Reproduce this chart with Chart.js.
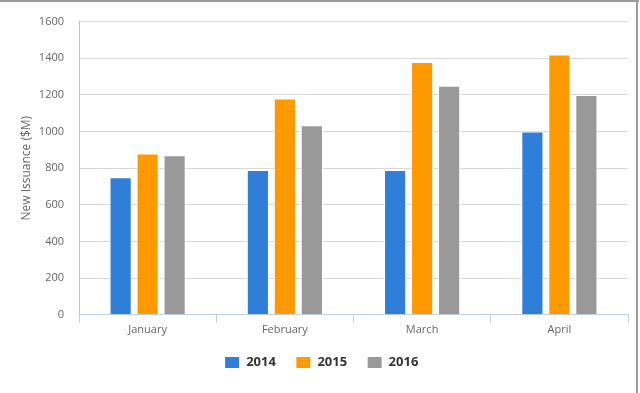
<!DOCTYPE html>
<html>
<head>
<meta charset="utf-8">
<script src="https://cdn.jsdelivr.net/npm/chart.js@4"></script>
<style>
  html, body { margin: 0; padding: 0; background: #fff; }
  #wrap { position: relative; width: 640px; height: 393px; }
  #wrap .edge-top { position: absolute; left: 0; top: 0; width: 639px; height: 2px; background: #9a9a9a; }
  #wrap .edge-right { position: absolute; left: 636px; top: 0; width: 2px; height: 393px; background: #9a9a9a; }
</style>
</head>
<body>
<div id="wrap">
  <canvas id="issuance" width="640" height="393"></canvas>
  <div class="edge-top"></div>
  <div class="edge-right"></div>
</div>
<script>
const months = ['January', 'February', 'March', 'April'];
const years = ['2014', '2015', '2016'];
const issuance2014 = [750, 790, 790, 1000];
const issuance2015 = [880, 1180, 1380, 1420];
const issuance2016 = [870, 1035, 1250, 1200];
const yTicks = [0, 200, 400, 600, 800, 1000, 1200, 1400, 1600];

const colors = ['#2f7ed8', '#ff9900', '#999999'];
const font = "'Open Sans', 'DejaVu Sans', sans-serif";

function makeSet(label, data, color) {
    return {
        label: label,
        data: data,
        backgroundColor: color,
        borderColor: '#ffffff',
        borderWidth: 1,
        borderSkipped: 'bottom',
        barPercentage: 0.82,
        categoryPercentage: 0.59
    };
}

const ctx = document.getElementById('issuance').getContext('2d');
const chart = new Chart(ctx, {
    type: 'bar',
    data: {
        labels: months,
        datasets: [
            makeSet(years[0], issuance2014, colors[0]),
            makeSet(years[1], issuance2015, colors[1]),
            makeSet(years[2], issuance2016, colors[2])
        ]
    },
    options: {
        responsive: false,
        maintainAspectRatio: false,
        animation: false,
        layout: { padding: { left: 15, right: 12, top: 16, bottom: 14 } },
        scales: {
            x: {
                grid: { offset: true, drawOnChartArea: false, drawTicks: true, tickLength: 8, color: '#c0d0e0' },
                border: { display: true, color: '#c0d0e0', width: 1 },
                ticks: { color: '#666666', font: { family: font, size: 11 }, padding: 0 }
            },
            y: {
                min: 0,
                max: 1600,
                afterBuildTicks: (scale) => { scale.ticks = yTicks.map(v => ({ value: v })); },
                afterFit: (scale) => { scale.width = 64; },
                grid: { color: '#d8d8d8', drawTicks: false },
                border: { display: true, color: '#c0c0c0', width: 1 },
                ticks: { color: '#666666', font: { family: font, size: 11 }, padding: 15, callback: (v) => String(v) },
                title: { display: true, text: 'New Issuance ($M)', color: '#666666', font: { family: font, size: 12 } }
            }
        },
        plugins: {
            legend: {
                position: 'bottom',
                labels: {
                    boxWidth: 15,
                    boxHeight: 12,
                    padding: 20,
                    color: '#333333',
                    font: { family: font, size: 13, weight: 'bold' }
                }
            },
            tooltip: { enabled: false }
        }
    }
});
</script>
</body>
</html>
